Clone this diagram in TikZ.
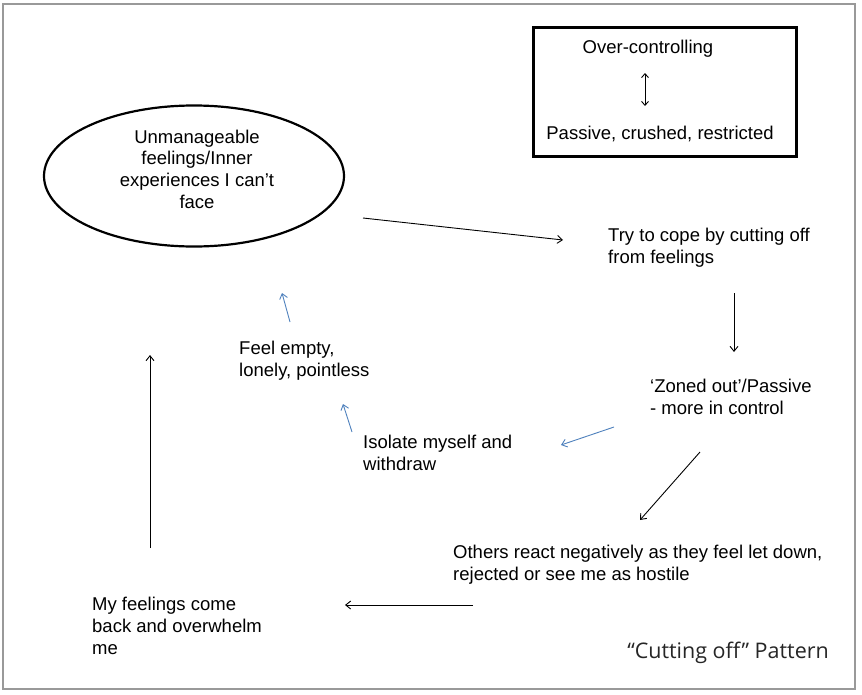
\documentclass[tikz,border=0pt]{standalone}
\usepackage{fontspec}
\setmainfont{Liberation Sans}
\newfontfamily\titlefont{Open Sans}
\usetikzlibrary{shapes.geometric,arrows.meta}
\definecolor{linkblue}{RGB}{79,129,189}
\tikzset{
  words/.style={anchor=base west, align=left, inner sep=0pt, font=\fontsize{18.5}{21.6}\selectfont},
  flow/.style={-{Straight Barb[length=5pt,width=8pt]}, line width=0.9pt},
  softflow/.style={flow, draw=linkblue},
}
\begin{document}
\begin{tikzpicture}[x=1pt,y=-1pt]
            \useasboundingbox (0,0) rectangle (862,694);
            % Frame
            \draw[black!40, line width=1.5pt] (3,4) rectangle (855,689);
            % Key box
            \draw[line width=3pt] (533,27) rectangle (796,156);
            \node[words, anchor=base] (over) at (648,53) {Over-controlling};
            \node[words, anchor=base] (crushed) at (660,139) {Passive, crushed, restricted};
            \coordinate (keytop) at (645,73);
            \coordinate (keybot) at (645,106);
            \draw[{Straight Barb[length=4pt,width=7pt]}-{Straight Barb[length=4pt,width=7pt]}, line width=0.9pt] (keytop) -- (keybot);
            % Ellipse
            \node[draw, ellipse, line width=2.2pt, minimum width=300pt, minimum height=141pt] (inner) at (194,176) {};
            \node[words, anchor=base, align=center] (innertxt) at (197,208) {Unmanageable\\feelings/Inner\\experiences I can’t\\face};
            % Steps (base is the last line)
            \node[words] (cope) at (608,263) {Try to cope by cutting off\\from feelings};
            \node[words] (zoned) at (650,414) {‘Zoned out’/Passive\\- more in control};
            \node[words] (others) at (453,580) {Others react negatively as they feel let down,\\rejected or see me as hostile};
            \node[words] (back) at (92,654) {My feelings come\\back and overwhelm\\me};
            \node[words] (empty) at (239,376) {Feel empty,\\lonely, pointless};
            \node[words] (isolate) at (363,470) {Isolate myself and\\withdraw};
            % Arrow ends
            \coordinate (a1s) at (363,218);
            \coordinate (a1e) at (563,240);
            \coordinate (a2s) at (734,293);
            \coordinate (a2e) at (734,352);
            \coordinate (a3s) at (700,452);
            \coordinate (a3e) at (640,520);
            \coordinate (a4s) at (473,605);
            \coordinate (a4e) at (345,605);
            \coordinate (a5s) at (150,548);
            \coordinate (a5e) at (150,355);
            \coordinate (b1s) at (614,427);
            \coordinate (b1e) at (561,445);
            \coordinate (b2s) at (352,432);
            \coordinate (b2e) at (343,404);
            \coordinate (b3s) at (290,322);
            \coordinate (b3e) at (282,293);
            % Arrows
            \draw[flow] (a1s) -- (a1e);
            \draw[flow] (a2s) -- (a2e);
            \draw[flow] (a3s) -- (a3e);
            \draw[flow] (a4s) -- (a4e);
            \draw[flow] (a5s) -- (a5e);
            \draw[softflow] (b1s) -- (b1e);
            \draw[softflow] (b2s) -- (b2e);
            \draw[softflow] (b3s) -- (b3e);
            % Title
            \node[anchor=base east, inner sep=0pt, text=black!85, font=\titlefont\fontsize{21.5}{26}\selectfont] (title) at (829,658) {“Cutting off” Pattern};
        \end{tikzpicture}
\end{document}
